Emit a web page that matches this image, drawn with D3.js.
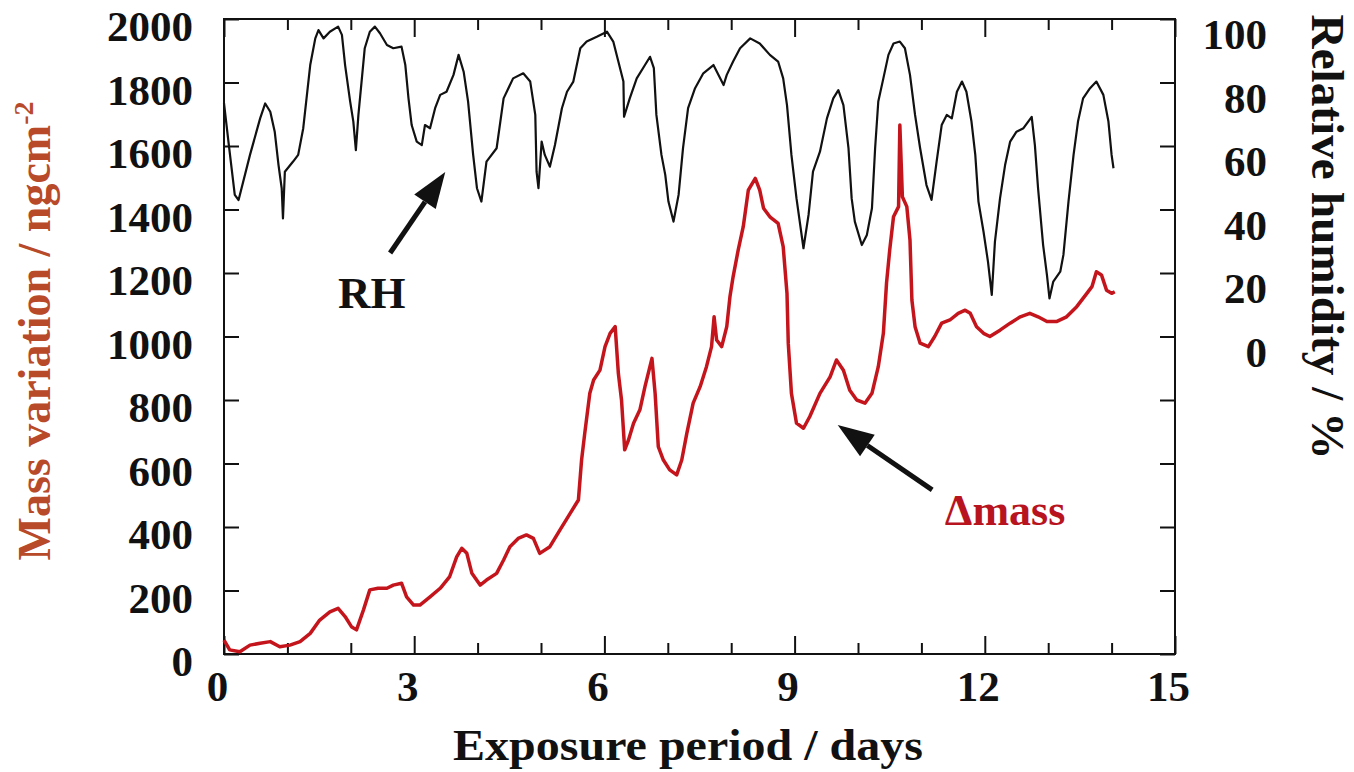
<!DOCTYPE html>
<html>
<head>
<meta charset="utf-8">
<script src="https://cdn.jsdelivr.net/npm/d3@7"></script>
<style>
  body { margin: 0; background: #fff; }
  text { font-family: "Liberation Serif", "Times New Roman", serif; font-weight: bold; fill: #111; }
  .tick text { font-size: 43px; }
  .tick line { stroke: #111; stroke-width: 2; }
</style>
</head>
<body>
<script>

// relative humidity, % (black curve, right axis)
const rhDays = [0.00, 0.07, 0.17, 0.23, 0.41, 0.57, 0.65, 0.73, 0.80, 0.86, 0.91, 0.93, 0.96, 1.09, 1.17, 1.25, 1.36, 1.44, 1.49, 1.57,
  1.67, 1.80, 1.86, 1.91, 1.99, 2.04, 2.08, 2.12, 2.17, 2.22, 2.30, 2.38, 2.46, 2.57, 2.67, 2.80, 2.86, 2.91, 2.96, 3.04,
  3.12, 3.17, 3.25, 3.33, 3.41, 3.51, 3.62, 3.70, 3.78, 3.85, 3.93, 3.99, 4.06, 4.14, 4.30, 4.41, 4.56, 4.72, 4.83, 4.91,
  4.93, 4.96, 5.01, 5.06, 5.14, 5.22, 5.33, 5.41, 5.51, 5.62, 5.72, 5.88, 6.04, 6.14, 6.22, 6.30, 6.31, 6.40, 6.51, 6.64,
  6.72, 6.78, 6.82, 6.90, 6.96, 7.01, 7.09, 7.17, 7.24, 7.32, 7.43, 7.56, 7.72, 7.80, 7.88, 7.93, 8.03, 8.14, 8.30, 8.45,
  8.61, 8.74, 8.82, 8.88, 8.95, 9.03, 9.14, 9.22, 9.29, 9.40, 9.51, 9.61, 9.69, 9.77, 9.85, 9.90, 9.95, 10.06, 10.14, 10.22,
  10.27, 10.32, 10.40, 10.48, 10.56, 10.66, 10.74, 10.82, 10.90, 10.98, 11.08, 11.16, 11.24, 11.32, 11.40, 11.48, 11.56, 11.64, 11.71, 11.79,
  11.85, 11.90, 11.98, 12.05, 12.11, 12.16, 12.24, 12.32, 12.40, 12.50, 12.61, 12.74, 12.79, 12.84, 12.92, 12.98, 13.02, 13.08, 13.19, 13.24,
  13.32, 13.40, 13.47, 13.55, 13.66, 13.76, 13.87, 13.95, 14.00, 14.03]
const rhValues = [73.5, 61.4, 44.6, 43.0, 57.2, 68.7, 73.4, 70.8, 64.5, 54.0, 46.7, 37.2, 51.9, 55.1, 57.2, 65.6, 85.5, 93.9, 96.5, 93.9,
  96.0, 97.6, 95.0, 85.5, 74.0, 67.7, 58.7, 69.8, 80.3, 90.8, 96.0, 97.6, 95.5, 91.8, 90.8, 91.3, 85.5, 75.0, 66.6, 61.4,
  60.3, 66.6, 65.6, 71.9, 76.1, 77.1, 82.4, 88.7, 83.4, 74.0, 57.2, 46.7, 42.5, 55.1, 59.3, 75.0, 81.3, 82.9, 80.3, 69.8,
  51.9, 46.7, 61.4, 57.2, 53.5, 60.3, 71.9, 77.1, 80.3, 90.8, 92.9, 94.4, 96.0, 92.9, 86.6, 80.3, 69.2, 75.0, 81.3, 85.5,
  88.1, 84.5, 69.8, 57.2, 50.9, 42.5, 36.2, 44.6, 59.3, 71.9, 78.2, 82.9, 85.5, 82.4, 79.2, 82.4, 86.6, 90.8, 93.9, 92.3,
  88.7, 86.6, 81.3, 72.9, 57.2, 43.5, 27.8, 38.3, 51.9, 58.2, 68.7, 75.0, 77.6, 72.9, 59.3, 43.5, 36.2, 28.8, 32.0, 40.4,
  59.3, 74.0, 81.3, 88.7, 92.3, 92.9, 90.8, 82.4, 69.8, 59.3, 47.7, 43.0, 55.1, 66.6, 69.8, 68.7, 77.1, 80.3, 77.1, 67.7,
  57.2, 42.5, 33.0, 23.6, 13.1, 29.9, 43.5, 54.0, 61.4, 64.5, 65.6, 69.2, 60.3, 46.7, 28.8, 19.4, 12.0, 17.3, 20.4, 25.7,
  42.5, 57.2, 67.7, 75.0, 78.2, 80.3, 76.1, 67.7, 57.2, 53.0]

// mass variation, ng/cm2 (red curve, left axis)
const massDays = [0.00, 0.09, 0.25, 0.41, 0.57, 0.73, 0.88, 1.04, 1.20, 1.36, 1.51, 1.67, 1.80, 1.91, 2.01, 2.09, 2.20, 2.30, 2.43, 2.57,
  2.67, 2.80, 2.88, 2.99, 3.09, 3.25, 3.41, 3.56, 3.67, 3.75, 3.83, 3.91, 4.04, 4.14, 4.30, 4.41, 4.51, 4.64, 4.77, 4.88,
  4.98, 5.14, 5.30, 5.46, 5.59, 5.64, 5.69, 5.77, 5.83, 5.93, 6.01, 6.09, 6.17, 6.22, 6.27, 6.32, 6.38, 6.46, 6.56, 6.64,
  6.75, 6.80, 6.85, 6.93, 7.03, 7.14, 7.22, 7.30, 7.40, 7.51, 7.61, 7.69, 7.73, 7.77, 7.85, 7.93, 7.98, 8.03, 8.11, 8.19,
  8.27, 8.38, 8.45, 8.51, 8.61, 8.74, 8.82, 8.88, 8.90, 8.95, 9.03, 9.14, 9.24, 9.40, 9.56, 9.66, 9.77, 9.87, 9.98, 10.11,
  10.22, 10.32, 10.40, 10.45, 10.50, 10.56, 10.64, 10.66, 10.70, 10.77, 10.82, 10.85, 10.90, 10.98, 11.11, 11.21, 11.32, 11.45, 11.58, 11.69,
  11.77, 11.87, 11.98, 12.08, 12.24, 12.40, 12.56, 12.71, 12.84, 12.98, 13.13, 13.29, 13.45, 13.61, 13.69, 13.76, 13.84, 13.92, 14.00, 14.05]
const massValues = [44, 13, 7, 28, 34, 39, 23, 28, 39, 65, 107, 133, 144, 118, 86, 76, 139, 202, 207, 207,
  217, 223, 180, 154, 154, 180, 207, 244, 306, 333, 317, 254, 217, 233, 254, 296, 338, 364, 375, 364,
  317, 338, 391, 443, 485, 611, 695, 821, 863, 894, 968, 1010, 1031, 884, 800, 643, 674, 727, 769, 842,
  931, 821, 653, 611, 580, 564, 611, 695, 790, 842, 905, 968, 1062, 989, 968, 1031, 1125, 1188, 1272, 1346,
  1461, 1498, 1461, 1404, 1377, 1356, 1283, 1136, 979, 821, 727, 711, 748, 821, 873, 926, 894, 831, 800, 790,
  821, 905, 1010, 1168, 1272, 1377, 1409, 1666, 1440, 1409, 1304, 1115, 1031, 979, 968, 1000, 1042, 1052, 1073, 1083,
  1073, 1031, 1010, 1000, 1020, 1042, 1062, 1073, 1062, 1047, 1047, 1062, 1094, 1136, 1157, 1204, 1194, 1146, 1136, 1141]

const majorDays = [0, 3, 6, 9, 12, 15]
const minorDays = [1, 2, 4, 5, 7, 8, 10, 11, 13, 14]
const massTicks = [0, 200, 400, 600, 800, 1000, 1200, 1400, 1600, 1800, 2000]

const margin = {
  top: 19,
  right: 179,
  bottom: 118,
  left: 224,
}
const width = 1354 - margin.left - margin.right
const height = 772 - margin.top - margin.bottom

const svg = d3.select('body').append('svg')
  .attr('width', width + margin.left + margin.right)
  .attr('height', height + margin.top + margin.bottom)
  .append('g')
  .attr('transform', `translate(${margin.left}, ${margin.top})`)

const x = d3.scaleLinear().domain([0, 15]).range([0, width])
const y = d3.scaleLinear().domain([0, 2000]).range([height, 0])
// RH 0..100 sits on mass 1000..2000
const yRH = d3.scaleLinear().domain([0, 100]).range([y(1000), y(2000)])

const noDomain = g => g.select('.domain').remove()

// bottom / top ticks
svg.append('g')
  .attr('transform', `translate(0, ${height})`)
  .call(d3.axisBottom(x).tickValues(majorDays).tickSize(-18).tickPadding(16).tickFormat(d3.format('d')))
  .call(noDomain)
  .selectAll('text').attr('dx', -7)
svg.append('g')
  .attr('transform', `translate(0, ${height})`)
  .call(d3.axisBottom(x).tickValues(minorDays).tickSize(-11).tickFormat(''))
  .call(noDomain)
svg.append('g')
  .call(d3.axisTop(x).tickValues(majorDays).tickSize(-18).tickFormat(''))
  .call(noDomain)
svg.append('g')
  .call(d3.axisTop(x).tickValues(minorDays).tickSize(-11).tickFormat(''))
  .call(noDomain)

// left
svg.append('g')
  .call(d3.axisLeft(y).tickValues(massTicks).tickSize(-15).tickPadding(31).tickFormat(d3.format('d')))
  .call(noDomain)
  .selectAll('text').attr('y', 8)

// right, labelled only where RH exists
svg.append('g')
  .attr('transform', `translate(${width}, 0)`)
  .call(d3.axisRight(y).tickValues(massTicks).tickSize(-15)
    .tickFormat(d => d >= 1000 ? Math.round(yRH.invert(y(d))) : ''))
  .call(noDomain)
  .selectAll('text')
  .attr('x', 92)
  .attr('y', 16)
  .attr('text-anchor', 'end')

svg.append('rect')
  .attr('width', width)
  .attr('height', height)
  .attr('fill', 'none')
  .attr('stroke', '#111')
  .attr('stroke-width', 2)

const massLine = d3.line().x(d => x(d[0])).y(d => y(d[1]))
const rhLine = d3.line().x(d => x(d[0])).y(d => yRH(d[1]))

svg.append('path')
  .datum(d3.zip(massDays, massValues))
  .attr('d', massLine)
  .attr('fill', 'none')
  .attr('stroke', '#c4151c')
  .attr('stroke-width', 3.5)
  .attr('stroke-linejoin', 'round')

svg.append('path')
  .datum(d3.zip(rhDays, rhValues))
  .attr('d', rhLine)
  .attr('fill', 'none')
  .attr('stroke', '#111')
  .attr('stroke-width', 2.2)
  .attr('stroke-linejoin', 'round')

// annotations (day, mass coordinates)
const arrows = [
  {from: [2.62, 1263], to: [3.49, 1518]},
  {from: [11.17, 517], to: [9.68, 721]},
]

arrows.forEach(a => {
  const x0 = x(a.from[0]), y0 = y(a.from[1])
  const x1 = x(a.to[0]), y1 = y(a.to[1])
  const ang = Math.atan2(y1 - y0, x1 - x0)
  const len = 36, half = 13
  const bx = x1 - len * Math.cos(ang), by = y1 - len * Math.sin(ang)
  svg.append('line')
    .attr('x1', x0).attr('y1', y0)
    .attr('x2', bx).attr('y2', by)
    .attr('stroke', '#111')
    .attr('stroke-width', 5)
  svg.append('path')
    .attr('d', `M${x1},${y1}L${bx + half * Math.sin(ang)},${by - half * Math.cos(ang)}L${bx - half * Math.sin(ang)},${by + half * Math.cos(ang)}Z`)
    .attr('fill', '#111')
})

svg.append('text')
  .attr('x', x(1.80))
  .attr('y', y(1090))
  .attr('font-size', 45)
  .text('RH')

svg.append('text')
  .attr('x', x(11.37))
  .attr('y', y(406))
  .attr('font-size', 44)
  .style('fill', '#b8141f')
  .text('\u0394mass')

// axis titles
svg.append('text')
  .attr('x', 688 - margin.left)
  .attr('y', 760 - margin.top)
  .attr('text-anchor', 'middle')
  .attr('font-size', 44)
  .attr('textLength', 470)
  .attr('lengthAdjust', 'spacingAndGlyphs')
  .text('Exposure period / days')

const leftTitle = svg.append('text')
  .attr('transform', `translate(${50 - margin.left}, ${331 - margin.top}) rotate(-90)`)
  .attr('text-anchor', 'middle')
  .attr('font-size', 46)
  .style('fill', '#b84a2a')
leftTitle.append('tspan').text('Mass variation / ngcm')
leftTitle.append('tspan').attr('dy', -17).attr('font-size', 28).text('-2')

svg.append('text')
  .attr('transform', `translate(${1312 - margin.left}, ${237 - margin.top}) rotate(90)`)
  .attr('text-anchor', 'middle')
  .attr('font-size', 46)
  .attr('textLength', 445)
  .attr('lengthAdjust', 'spacingAndGlyphs')
  .text('Relative humidity / %')

</script>
</body>
</html>
